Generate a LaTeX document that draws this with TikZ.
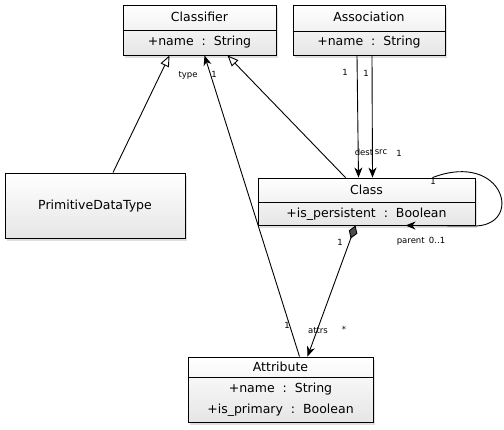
\documentclass[tikz,border=0pt]{standalone}
\usepackage{fontspec}
\setmainfont{DejaVu Sans}
\usetikzlibrary{arrows.meta,shadows,calc}
\begin{document}
\begin{tikzpicture}[x=1pt,y=-1pt,
  umlbox/.style={draw=black,line width=0.9pt,top color=white,bottom color=black!10,
    drop shadow={shadow xshift=2pt,shadow yshift=-3pt,opacity=0.25},inner sep=0pt},
  boxtext/.style={font=\fontsize{12.5}{14}\selectfont,inner sep=0pt},
  lbl/.style={font=\fontsize{8.5}{9}\selectfont,inner sep=0pt},
  conn/.style={line width=0.9pt},
  gen/.style={conn,-{Triangle[open,length=11pt,width=9pt,fill=white]}},
  nav/.style={conn,-{Stealth[length=10pt,width=8pt,inset=3pt]}},
  comp/.style={conn,{Diamond[length=14pt,width=9pt,fill=black!70]}-{Stealth[length=10pt,width=8pt,inset=3pt]}}
]
\useasboundingbox (0,0) rectangle (504,429);
\fill[white] (0,0) rectangle (504,429);

% Classifier
\node[umlbox,minimum width=153pt,minimum height=50pt] (classifier) at (199.5,30) {};
\draw[line width=0.9pt] (classifier.west |- 0,30) -- (classifier.east |- 0,30);
\node[boxtext] (classifiername) at (199.5,17) {Classifier};
\node[boxtext] (classifierattr) at (199.5,42) {+name\ \ :\ \ String};

% Association
\node[umlbox,minimum width=152pt,minimum height=50pt] (association) at (369,30) {};
\draw[line width=0.9pt] (association.west |- 0,31) -- (association.east |- 0,31);
\node[boxtext] (associationname) at (369,17) {Association};
\node[boxtext] (associationattr) at (369,42) {+name\ \ :\ \ String};

% PrimitiveDataType
\node[umlbox,minimum width=180pt,minimum height=65pt] (pdt) at (95,205.5) {};
\node[boxtext] (pdtname) at (95,206) {PrimitiveDataType};

% Class
\node[umlbox,minimum width=217pt,minimum height=47pt] (class) at (366.5,201.5) {};
\draw[line width=0.9pt] (class.west |- 0,202) -- (class.east |- 0,202);
\node[boxtext] (classname) at (366.5,190) {Class};
\node[boxtext] (classattr) at (366.5,214) {+is\_persistent\ \ :\ \ Boolean};

% Attribute
\node[umlbox,minimum width=185pt,minimum height=65pt] (attribute) at (280.5,389.5) {};
\draw[line width=0.9pt] (attribute.west |- 0,377) -- (attribute.east |- 0,377);
\node[boxtext] (attributename) at (280.5,367) {Attribute};
\node[boxtext] (attributeattr1) at (280.5,389) {+name\ \ :\ \ String};
\node[boxtext] (attributeattr2) at (280.5,410) {+is\_primary\ \ :\ \ Boolean};

% anchor points
\coordinate (pdtTop) at ([xshift=18pt]pdt.north);
\coordinate (clfA) at ([xshift=-30pt]classifier.south);
\coordinate (clfB) at ([xshift=5pt]classifier.south);
\coordinate (clfC) at ([xshift=28pt]classifier.south);
\coordinate (classTopA) at ([xshift=-21pt]class.north);
\coordinate (classTopB) at ([xshift=-8pt]class.north);
\coordinate (classTopC) at ([xshift=6pt]class.north);
\coordinate (classTopD) at ([xshift=66pt]class.north);
\coordinate (classBotA) at ([xshift=-11pt]class.south);
\coordinate (classBotB) at ([xshift=39pt]class.south);
\coordinate (assocA) at ([xshift=-12pt]association.south);
\coordinate (assocB) at ([xshift=3pt]association.south);
\coordinate (attrTopA) at ([xshift=19pt]attribute.north);
\coordinate (attrTopB) at ([xshift=27pt]attribute.north);

% generalizations
\draw[gen] (pdtTop) -- (clfA);
\draw[gen] (classTopA) -- (clfC);

% Attribute -> Classifier (type)
\draw[nav] (attrTopA) -- (clfB);
\node[lbl] (ltype) at (188,75) {type};
\node[lbl] (ltype1) at (214,74) {1};
\node[lbl] (lattr1) at (287,325) {1};

% Association -> Class
\draw[nav] (assocA) -- (classTopB);
\draw[nav] (assocB) -- (classTopC);
\node[lbl] (la1) at (345,72) {1};
\node[lbl] (la2) at (366,73) {1};
\node[lbl] (ldest) at (364,152) {dest};
\node[lbl] (lsrc) at (381,152) {src};
\node[lbl] (lsrc1) at (399,153) {1};

% self loop
\draw[nav] (classTopD) .. controls (505,150) and (525,228) .. (472,226) -- (classBotB);
\node[lbl] (lp1) at (433,181) {1};
\node[lbl] (lparent) at (421,241) {parent\enspace 0..1};

% composition
\draw[comp] (classBotA) -- (attrTopB);
\node[lbl] (lc1) at (340,242) {1};
\node[lbl] (lattrs) at (318,331) {attrs};
\node[lbl] (lstar) at (344,329) {*};
\end{tikzpicture}
\end{document}
